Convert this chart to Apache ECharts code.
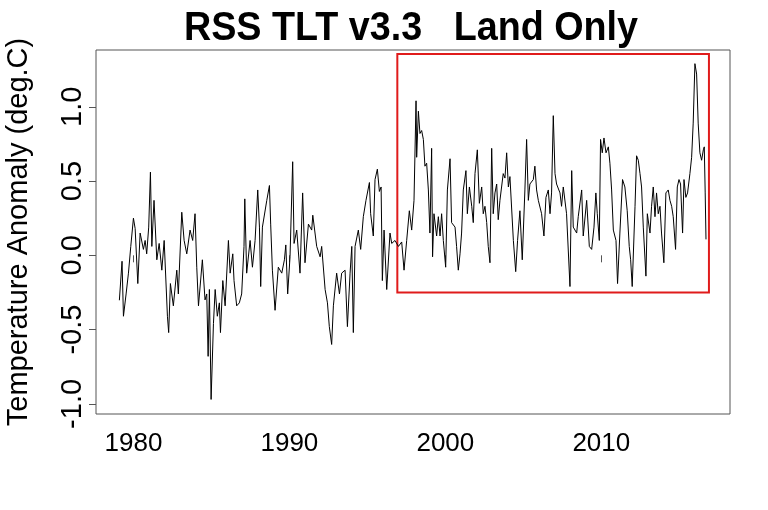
<!DOCTYPE html>
<html>
<head>
<meta charset="utf-8">
<script src="https://cdn.jsdelivr.net/npm/echarts@6/dist/echarts.min.js"></script>
<style>
html,body{margin:0;padding:0;background:#fff;}
#chart{width:768px;height:510px;}
</style>
</head>
<body>
<div id="chart"></div>
<script>
// Decimal year of each sample
var years = [
1979.10,1979.27,1979.36,1979.53,1979.68,1979.83,1980.00,1980.11,1980.28,1980.43,
1980.64,1980.75,1980.85,1980.98,1981.09,1981.18,1981.32,1981.50,1981.65,1981.82,
1981.97,1982.18,1982.26,1982.37,1982.56,1982.78,1982.88,1983.10,1983.25,1983.42,
1983.63,1983.80,1983.95,1984.06,1984.17,1984.42,1984.59,1984.70,1984.79,1984.87,
1984.98,1985.13,1985.24,1985.38,1985.51,1985.58,1985.73,1985.88,1986.09,1986.20,
1986.37,1986.45,1986.62,1986.79,1986.94,1987.09,1987.14,1987.26,1987.48,1987.63,
1987.80,1987.97,1988.08,1988.16,1988.27,1988.55,1988.72,1988.80,1988.91,1989.08,
1989.29,1989.51,1989.68,1989.77,1989.89,1990.04,1990.21,1990.30,1990.47,1990.68,
1990.85,1991.00,1991.22,1991.43,1991.50,1991.75,1991.97,1992.07,1992.29,1992.44,
1992.56,1992.71,1992.82,1993.03,1993.21,1993.35,1993.57,1993.72,1993.89,1994.00,
1994.10,1994.21,1994.42,1994.57,1994.74,1994.91,1995.13,1995.21,1995.38,1995.49,
1995.64,1995.77,1995.88,1995.96,1996.07,1996.24,1996.45,1996.56,1996.77,1996.99,
1997.20,1997.35,1997.52,1997.69,1997.84,1997.99,1998.12,1998.16,1998.27,1998.37,
1998.48,1998.59,1998.69,1998.80,1998.91,1999.01,1999.12,1999.18,1999.27,1999.44,
1999.55,1999.66,1999.76,1999.87,2000.02,2000.13,2000.30,2000.40,2000.62,2000.72,
2000.83,2000.94,2001.04,2001.15,2001.32,2001.41,2001.54,2001.69,2001.79,2001.90,
2002.05,2002.18,2002.33,2002.43,2002.54,2002.65,2002.75,2002.86,2002.97,2003.07,
2003.18,2003.29,2003.39,2003.50,2003.71,2003.82,2003.93,2004.04,2004.14,2004.36,
2004.51,2004.63,2004.78,2004.93,2005.10,2005.21,2005.32,2005.42,2005.64,2005.74,
2005.85,2005.96,2006.17,2006.32,2006.45,2006.60,2006.71,2006.81,2006.92,2007.03,
2007.13,2007.35,2007.45,2007.56,2007.77,2007.99,2008.10,2008.20,2008.42,2008.52,
2008.74,2008.84,2009.06,2009.23,2009.38,2009.53,2009.65,2009.74,2009.87,2009.95,
2010.06,2010.17,2010.30,2010.45,2010.55,2010.66,2010.77,2010.94,2011.04,2011.19,
2011.36,2011.51,2011.66,2011.79,2011.88,2011.98,2012.16,2012.26,2012.37,2012.48,
2012.58,2012.69,2012.86,2012.95,2013.12,2013.22,2013.33,2013.44,2013.54,2013.65,
2013.76,2013.86,2014.01,2014.14,2014.29,2014.40,2014.51,2014.61,2014.76,2014.87,
2014.98,2015.08,2015.21,2015.30,2015.42,2015.53,2015.68,2015.79,2015.89,2016.00,
2016.11,2016.21,2016.32,2016.43,2016.54,2016.60,2016.66,2016.71
];
// Temperature anomaly (deg.C) at each sample
var anomalyDegC = [
-0.30,-0.04,-0.41,-0.26,-0.12,0.06,0.25,0.18,-0.19,0.15,
0.04,0.10,0.01,0.19,0.56,0.06,0.37,-0.03,0.08,-0.10,
0.10,-0.41,-0.52,-0.19,-0.34,-0.10,-0.26,0.29,0.10,0.01,
0.17,0.10,0.28,-0.08,-0.34,-0.03,-0.30,-0.26,-0.68,-0.23,
-0.97,-0.46,-0.23,-0.41,-0.32,-0.52,-0.17,-0.34,0.10,-0.12,
0.01,-0.17,-0.34,-0.32,-0.26,0.06,0.38,-0.12,0.10,-0.08,
0.10,0.44,0.19,-0.21,0.19,0.37,0.47,0.21,-0.10,-0.37,
-0.08,-0.12,-0.03,0.07,-0.26,-0.01,0.63,0.08,0.17,-0.12,
0.42,-0.05,0.21,0.17,0.27,0.06,-0.01,0.06,-0.23,-0.32,
-0.48,-0.60,-0.34,-0.12,-0.26,-0.12,-0.10,-0.48,-0.12,0.06,
-0.52,0.06,0.17,0.04,0.26,0.37,0.49,0.28,0.13,0.51,
0.58,0.43,0.46,-0.17,0.17,-0.23,0.15,0.08,0.10,0.06,
0.09,-0.10,0.10,0.30,0.17,0.37,1.04,0.66,0.97,0.82,
0.84,0.78,0.60,0.62,0.44,0.15,0.72,-0.01,0.28,0.13,
0.26,0.13,0.28,0.10,-0.08,0.44,0.65,0.22,0.19,0.06,
-0.10,0.01,0.15,0.44,0.57,0.28,0.46,0.33,0.22,0.55,
0.71,0.35,0.46,0.28,0.33,0.22,0.06,-0.05,0.72,0.28,
0.42,0.48,0.24,0.37,0.55,0.52,0.69,0.46,0.53,0.10,
-0.11,0.10,0.30,-0.03,0.44,0.78,0.37,0.48,0.51,0.60,
0.44,0.37,0.28,0.13,0.39,0.44,0.28,0.42,0.94,0.55,
0.48,0.42,0.33,0.46,0.28,-0.21,0.57,0.19,0.15,0.26,
0.44,0.13,0.37,0.06,0.04,0.19,0.42,0.28,0.10,0.78,
0.69,0.79,0.69,0.73,0.62,0.44,0.17,0.10,-0.19,0.15,
0.51,0.46,0.30,0.06,-0.03,-0.21,0.33,0.67,0.64,0.55,
0.46,0.19,-0.14,0.28,0.15,0.33,0.46,0.26,0.42,0.28,
0.33,0.15,-0.05,0.42,0.44,0.37,0.33,0.26,0.04,0.46,
0.51,0.48,0.15,0.51,0.39,0.42,0.55,0.66,0.89,1.29,
1.22,0.89,0.69,0.64,0.71,0.73,0.42,0.11
];
var xTickValues = [1980, 1990, 2000, 2010];
var yTickValues = [-1.0, -0.5, 0.0, 0.5, 1.0];
var yTickLabels = ['-1.0', '-0.5', '0.0', '0.5', '1.0'];
var chartTitle = 'RSS TLT v3.3   Land Only';
var yAxisTitle = 'Temperature Anomaly (deg.C)';
// highlighted period rectangle (data units)
var boxYears = [1996.92, 2016.9];
var boxAnomaly = [-0.25, 1.355];

var FONT = '"Liberation Sans", Arial, sans-serif';
var seriesData = years.map(function (y, i) { return [y, anomalyDegC[i]]; });

var chart = echarts.init(document.getElementById('chart'), null, {renderer: 'canvas'});
chart.setOption({
  animation: false,
  backgroundColor: '#ffffff',
  graphic: [{
    type: 'text', x: 411, y: 8, scaleX: 0.92,
    style: {text: chartTitle, font: 'bold 41px ' + FONT, fill: '#000', align: 'center', verticalAlign: 'top'}
  }],
  grid: {left: 96, right: 38, top: 50, bottom: 96, show: true, borderColor: '#555', borderWidth: 1,
    backgroundColor: 'transparent', outerBoundsMode: 'none', containLabel: false},
  xAxis: {
    type: 'value', min: 1977.6, max: 2018.25,
    axisLine: {show: false},
    splitLine: {show: false},
    axisTick: {show: true, length: 7, lineStyle: {color: '#555'}, customValues: xTickValues},
    axisLabel: {customValues: xTickValues, margin: 17, fontFamily: FONT, fontSize: 26, color: '#000',
      formatter: function (v) { return String(v); }}
  },
  yAxis: {
    type: 'value', min: -1.068, max: 1.382,
    name: yAxisTitle, nameLocation: 'middle', nameGap: 63, nameRotate: 90,
    nameTextStyle: {fontFamily: FONT, fontSize: 29, color: '#000'},
    axisLine: {show: false},
    splitLine: {show: false},
    axisTick: {show: true, length: 7, lineStyle: {color: '#555'}, customValues: yTickValues},
    axisLabel: {customValues: yTickValues, rotate: 90, margin: 9, fontFamily: FONT, fontSize: 29, color: '#000',
      formatter: function (v) { var i = yTickValues.indexOf(v); return i >= 0 ? yTickLabels[i] : ''; }}
  },
  series: [{
    type: 'line', data: seriesData, showSymbol: false, symbol: 'none',
    lineStyle: {color: '#000', width: 1, join: 'round', cap: 'round'}, silent: true,
    markArea: {
      silent: true,
      itemStyle: {color: 'rgba(0,0,0,0)', borderColor: '#e01b1b', borderWidth: 2},
      data: [[{coord: [boxYears[0], boxAnomaly[0]]}, {coord: [boxYears[1], boxAnomaly[1]]}]]
    }
  }]
});
</script>
</body>
</html>
